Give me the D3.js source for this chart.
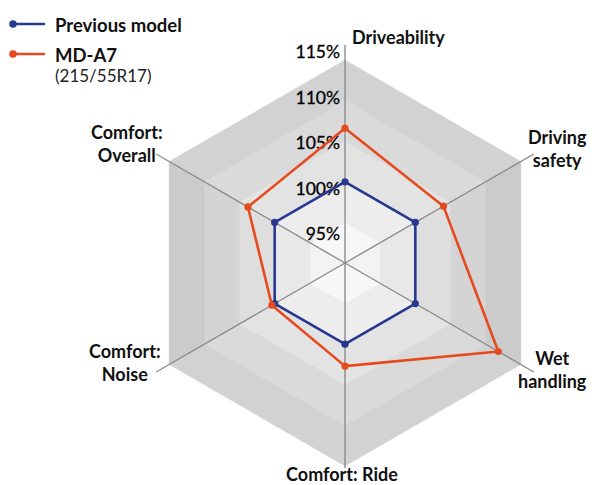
<!DOCTYPE html>
<meta charset="utf-8">
<style>
    body {
        margin: 0;
        background: #fff;
        font-family: "Lato", "Open Sans", sans-serif;
    }

    .axisLabel {
        font-weight: 700;
        font-size: 18px;
        fill: #111;
    }

    .tick {
        font-size: 17.5px;
        fill: #000;
        stroke: #000;
        stroke-width: 0.3px;
    }
</style>
<svg width="592" height="485"></svg>
<script src="https://d3js.org/d3.v7.min.js"></script>
<script>
    // data
    const axes = ["Driveability", "Driving safety", "Wet handling", "Comfort: Ride", "Comfort: Noise", "Comfort: Overall"];
    const previousModel = [100, 100, 100, 100, 100, 100];
    const mdA7 = [106.6, 104.0, 111.8, 102.7, 100.4, 103.8];
    const tickValues = [95, 100, 105, 110, 115];
    const tickLabels = ["95%", "100%", "105%", "110%", "115%"];
    const seriesNames = ["Previous model", "MD-A7"];

    var svg = d3.select("svg"),
        cx = 345,
        cy = 263;

    var r = d3.scaleLinear().domain([90, 115]).range([0, 203]);
    // tick labels sit a bit off the rings in the original
    var labelR = d3.scaleLinear().domain([95, 115]).range([23, 205]);

    function angle(i) {
        return -Math.PI / 2 + i * Math.PI / 3;
    }

    function pt(i, rad) {
        return [cx + rad * Math.cos(angle(i)), cy + rad * Math.sin(angle(i))];
    }

    // shaded hexagon bands, each split into 6 sectors
    var rings = [90].concat(tickValues);
    var bandFill = ["#f7f7f7", "#ededed", "#e3e3e3", "#dadada", "#d2d2d2"];
    var sideFill = ["#f3f3f3", "#e8e8e8", "#dedede", "#d4d4d4", "#cbcbcb"];

    var bg = svg.append("g");
    for (var b = 0; b < 5; b++) {
        for (var i = 0; i < 6; i++) {
            var j = (i + 1) % 6;
            var r0 = r(rings[b]), r1 = r(rings[b + 1]);
            var poly = [pt(i, r1), pt(j, r1), pt(j, r0), pt(i, r0)];
            var isSide = (i === 1 || i === 4);
            bg.append("polygon")
                .attr("points", poly.map(p => p.join(",")).join(" "))
                .style("fill", isSide ? sideFill[b] : bandFill[b])
                .style("stroke", isSide ? sideFill[b] : bandFill[b])
                .style("stroke-width", 0.5);
        }
    }

    // axis lines
    svg.append("g")
        .selectAll("line")
        .data(axes)
        .enter().append("line")
        .attr("x1", cx)
        .attr("y1", cy)
        .attr("x2", (d, i) => pt(i, i === 3 ? 205 : 218)[0])
        .attr("y2", (d, i) => pt(i, i === 3 ? 205 : 218)[1])
        .style("stroke", "#8c8c8c")
        .style("stroke-width", 1.4);

    // tick labels along the top axis
    svg.append("g")
        .selectAll("text")
        .data(tickValues)
        .enter().append("text")
        .attr("class", "tick")
        .attr("x", 340)
        .attr("y", d => cy - labelR(d))
        .attr("text-anchor", "end")
        .text((d, i) => tickLabels[i]);

    // axis labels
    var labelPos = [
        {dx: 7, dy: -4, anchor: "start"},
        {dx: 26, dy: -12, anchor: "middle"},
        {dx: 21, dy: -6, anchor: "middle"},
        {dx: -3, dy: 3, anchor: "middle"},
        {dx: -34, dy: -13, anchor: "middle"},
        {dx: -32, dy: -17, anchor: "middle"}
    ];
    axes.forEach(function (name, i) {
        var p = pt(i, 215);
        var lines = name === "Driveability" || name === "Comfort: Ride" ? [name] :
            name.indexOf("Comfort") === 0 ? ["Comfort:", name.split(": ")[1]] : name.split(" ");
        var t = svg.append("text")
            .attr("class", "axisLabel")
            .attr("text-anchor", labelPos[i].anchor)
            .attr("x", p[0] + labelPos[i].dx)
            .attr("y", p[1] + labelPos[i].dy);
        lines.forEach(function (l, k) {
            t.append("tspan")
                .attr("x", p[0] + labelPos[i].dx)
                .attr("dy", k === 0 ? 0 : 23)
                .text(l);
        });
    });

    // series
    var colors = ["#283891", "#e64a1e"];
    var series = [previousModel, mdA7];
    var line = d3.line().curve(d3.curveLinearClosed);

    series.forEach(function (vals, s) {
        var pts = vals.map((v, i) => pt(i, r(v)));
        svg.append("path")
            .attr("d", line(pts))
            .style("fill", "none")
            .style("stroke", colors[s])
            .style("stroke-width", 2.6)
            .style("stroke-linejoin", "round");
        svg.append("g")
            .selectAll("circle")
            .data(pts)
            .enter().append("circle")
            .attr("cx", d => d[0])
            .attr("cy", d => d[1])
            .attr("r", 3.6)
            .style("fill", colors[s]);
    });

    // legend
    var legend = svg.append("g");
    seriesNames.forEach(function (name, s) {
        var y = 24 + s * 30;
        legend.append("line")
            .attr("x1", 12).attr("x2", 45)
            .attr("y1", y).attr("y2", y)
            .style("stroke", colors[s])
            .style("stroke-width", 2.6);
        legend.append("circle")
            .attr("cx", 13).attr("cy", y).attr("r", 3.8)
            .style("fill", colors[s]);
        legend.append("text")
            .attr("x", 55).attr("y", y + 8)
            .style("font-weight", 700)
            .style("font-size", "18.5px")
            .style("fill", "#111")
            .text(name);
    });
    legend.append("text")
        .attr("x", 55).attr("y", 82)
        .style("font-size", "17px")
        .style("fill", "#222")
        .text("(215/55R17)");
</script>
